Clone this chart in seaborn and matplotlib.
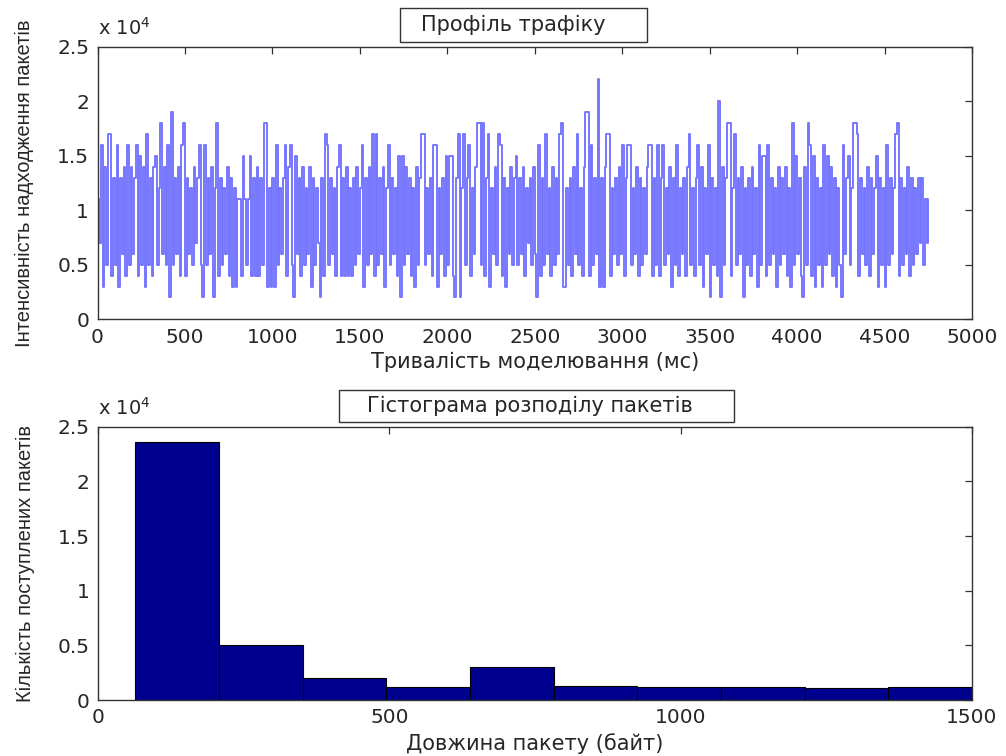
import numpy as np
import pandas as pd
import matplotlib
matplotlib.use('Agg')
import matplotlib.pyplot as plt
import matplotlib.patches as mpatches
from matplotlib.ticker import FuncFormatter
import seaborn as sns

# traffic profile, packets (x1000) every 10 ms, one row per 100 ms
traffic_k = [
   11, 7, 16, 3, 14, 5, 17, 17, 4, 13,
   5, 16, 3, 13, 6, 14, 4, 16, 5, 14,
   6, 13, 16, 4, 15, 5, 14, 3, 17, 5,
   13, 4, 14, 15, 5, 12, 18, 6, 14, 5,
   16, 2, 19, 5, 13, 6, 14, 4, 16, 18,
   4, 13, 6, 12, 5, 14, 7, 13, 16, 5,
   2, 16, 5, 13, 6, 14, 2, 12, 18, 4,
   13, 5, 12, 6, 14, 4, 13, 3, 12, 3,
   11, 11, 4, 15, 11, 5, 11, 15, 4, 13,
   4, 14, 4, 13, 5, 18, 18, 3, 12, 3,
   13, 3, 16, 5, 12, 6, 13, 16, 4, 14,
   16, 5, 2, 15, 6, 13, 4, 14, 5, 12,
   6, 14, 3, 13, 5, 12, 7, 2, 13, 4,
   17, 16, 5, 13, 6, 12, 4, 14, 16, 4,
   13, 4, 14, 4, 12, 4, 13, 5, 14, 6,
   12, 16, 3, 13, 5, 14, 6, 17, 4, 17,
   5, 13, 6, 14, 3, 12, 16, 5, 13, 6,
   12, 4, 15, 2, 15, 5, 14, 6, 13, 4,
   12, 3, 14, 5, 13, 17, 17, 5, 12, 6,
   13, 4, 16, 16, 3, 12, 6, 13, 4, 15,
   5, 15, 15, 4, 2, 13, 17, 2, 12, 17,
   5, 13, 16, 4, 12, 6, 14, 18, 18, 5,
   18, 4, 13, 17, 3, 12, 6, 14, 5, 17,
   16, 4, 13, 3, 12, 6, 14, 5, 13, 15,
   5, 13, 6, 14, 4, 12, 7, 13, 5, 14,
   6, 2, 16, 4, 13, 5, 17, 6, 12, 4,
   14, 5, 13, 6, 17, 18, 3, 3, 12, 5,
   13, 4, 14, 6, 17, 5, 12, 4, 14, 19,
   19, 4, 16, 5, 13, 6, 22, 3, 13, 3,
   14, 17, 17, 4, 12, 6, 13, 5, 14, 6,
   16, 4, 13, 16, 16, 5, 12, 6, 14, 4,
   13, 5, 12, 6, 14, 16, 16, 4, 13, 5,
   16, 4, 13, 16, 5, 12, 6, 14, 3, 13,
   5, 16, 4, 12, 6, 13, 4, 14, 17, 5,
   12, 4, 13, 16, 5, 14, 3, 12, 6, 16,
   2, 13, 5, 12, 4, 20, 2, 14, 5, 13,
   18, 18, 4, 12, 17, 5, 13, 6, 14, 2,
   12, 5, 13, 4, 14, 6, 12, 3, 16, 5,
   15, 15, 4, 16, 5, 13, 6, 12, 3, 14,
   5, 13, 6, 14, 4, 12, 3, 18, 5, 15,
   6, 13, 4, 2, 14, 5, 18, 16, 4, 15,
   3, 13, 5, 12, 3, 16, 5, 15, 6, 14,
   4, 13, 3, 12, 5, 2, 16, 6, 13, 15,
   5, 12, 18, 18, 17, 4, 13, 6, 12, 5,
   14, 4, 13, 6, 12, 15, 3, 13, 5, 12,
   3, 16, 5, 13, 6, 12, 17, 18, 4, 13,
   5, 12, 6, 14, 4, 13, 5, 12, 6, 13,
   7, 13, 5, 11, 7, 11,
]
step_ms = 10

# packet length histogram (10 bins between 64 and 1500 bytes)
bin_edges = [64, 207.6, 351.2, 494.8, 638.4, 782, 925.6, 1069.2, 1212.8, 1356.4, 1500]
bin_counts = [23600, 5000, 2000, 1150, 3000, 1300, 1150, 1150, 1130, 1150]

W, H = 1006, 756
sns.set_style('white')
plt.rcParams['font.family'] = ['DejaVu Sans']
plt.rcParams['mathtext.default'] = 'regular'

df = pd.DataFrame({'t': np.arange(len(traffic_k)) * step_ms,
                   'v': np.array(traffic_k) * 1000})
centers = [(a + b) / 2 for a, b in zip(bin_edges[:-1], bin_edges[1:])]

fig = plt.figure(figsize=(W / 100, H / 100), dpi=100)
ax1 = fig.add_axes([97.5 / W, 1 - 319.3 / H, 874.5 / W, 272.6 / H])
ax2 = fig.add_axes([98 / W, 1 - 700 / H, 874 / W, 273.3 / H])

# stairs-like trace (matlab style)
sns.lineplot(data=df, x='t', y='v', ax=ax1, color='#0000ff', linewidth=1.35,
             alpha=0.55, estimator=None, drawstyle='steps-post')
sns.histplot(x=centers, weights=bin_counts, bins=bin_edges, ax=ax2,
             color='#00008f', edgecolor='black', linewidth=0.8, alpha=1)

sci = FuncFormatter(lambda v, p: '%g' % (v / 1e4))
for ax in (ax1, ax2):
   ax.set_ylim(0, 25000)
   ax.set_yticks(np.arange(0, 25001, 5000))
   ax.yaxis.set_major_formatter(sci)
   ax.tick_params(direction='in', length=5, width=0.9, color='#333333',
                  top=True, right=True, labelsize=14.5, pad=6)
   for s in ax.spines.values():
      s.set_color('#333333')
      s.set_linewidth(1)
   ax.text(0.0, 1.043, r'x 10$^{4}$', transform=ax.transAxes, fontsize=14,
           va='baseline', ha='left')

ax1.set_xlim(0, 5000)
ax1.set_xticks(np.arange(0, 5001, 500))
ax2.set_xlim(0, 1500)
ax2.set_xticks([0, 500, 1000, 1500])

ax1.set_xlabel('Тривалість моделювання (мс)', fontsize=15, labelpad=4)
ax2.set_xlabel('Довжина пакету (байт)', fontsize=15, labelpad=4)
ax1.set_ylabel('Інтенсивність надходження пакетів', fontsize=14.5,
               family='Liberation Sans')
ax2.set_ylabel('Кількість поступлених пакетів', fontsize=14.5,
               family='Liberation Sans')
ax1.yaxis.set_label_coords(-0.073, 0.5)
ax2.yaxis.set_label_coords(-0.072, 0.5)

# boxed titles
for (x0, y0, x1, y1, tx, label) in [
      (400, 8, 647, 42, 513, 'Профіль трафіку'),
      (339, 390, 734, 422, 530, 'Гістограма розподілу пакетів')]:
   fig.patches.append(mpatches.Rectangle((x0 / W, 1 - y1 / H), (x1 - x0) / W,
                      (y1 - y0) / H, transform=fig.transFigure,
                      facecolor='white', edgecolor='#333333', linewidth=1))
   fig.text(tx / W, 1 - (y0 + y1) / 2 / H, label, fontsize=15,
            ha='center', va='center')

plt.savefig('out.png', dpi=100)
